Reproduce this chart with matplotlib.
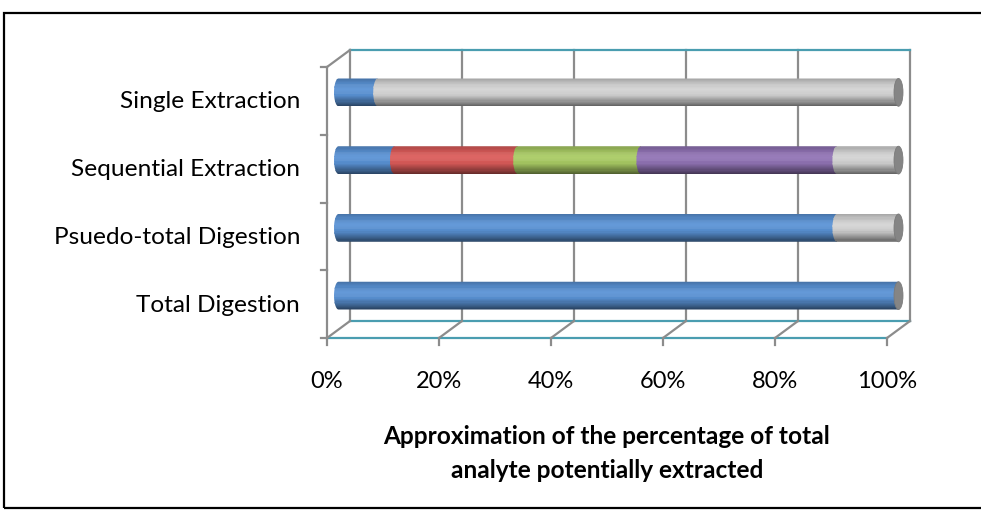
import numpy as np
import matplotlib
matplotlib.use("Agg")
import matplotlib.pyplot as plt
from matplotlib.patches import Polygon, Ellipse, Rectangle
from matplotlib.transforms import ScaledTranslation
import matplotlib.colors as mcolors

# ---- data -------------------------------------------------------------
categories = ["Total Digestion", "Psuedo-total Digestion",
              "Sequential Extraction", "Single Extraction"]
# stacked shares (percent) per category, left to right
segments = [
    [100],
    [89, 11],
    [10, 22, 22, 35, 11],
    [7, 93],
]
segment_colors = [
    ["#5A93D6"],
    ["#5A93D6", "#D4D4D4"],
    ["#5A93D6", "#DC5C5A", "#AACC64", "#9274B6", "#D4D4D4"],
    ["#5A93D6", "#D4D4D4"],
]
tick_values = [0, 20, 40, 60, 80, 100]
tick_labels = ["0%", "20%", "40%", "60%", "80%", "100%"]
xlabel_lines = ["Approximation of the percentage of total",
                "analyte potentially extracted"]

# ---- figure / axes ----------------------------------------------------
W, H, DPI = 981, 512, 100
fig = plt.figure(figsize=(W / DPI, H / DPI), dpi=DPI)
FONT = "Lato"

# front plane of the 3-D box in pixels
fx0, fx1 = 327, 887
fy_top, fy_bot = 67, 338
ax = fig.add_axes([fx0 / W, 1 - fy_bot / H, (fx1 - fx0) / W, (fy_bot - fy_top) / H])
ax.set_xlim(0, 100)
ax.set_ylim(-0.5, len(categories) - 0.5)
ax.axis("off")

# depth offsets (pixels): back wall and mid-depth where the cylinders sit
DX, DY = 23, 17
back = ax.transData + ScaledTranslation(DX / DPI, DY / DPI, fig.dpi_scale_trans)
mid = ax.transData + ScaledTranslation(11.5 / DPI, 8.5 / DPI, fig.dpi_scale_trans)

grid_gray = "#8C8C8C"
wall_teal = "#4A9DB0"
y_lo, y_hi = -0.5, len(categories) - 0.5

# back wall gridlines
for v in tick_values:
    ax.plot([v, v], [y_lo, y_hi], color=grid_gray, lw=1.6, transform=back,
            clip_on=False, zorder=1)
# back wall top / bottom edges
ax.plot([0, 100], [y_hi, y_hi], color=wall_teal, lw=1.6, transform=back, clip_on=False, zorder=1)
ax.plot([0, 100], [y_lo, y_lo], color=wall_teal, lw=1.6, transform=back, clip_on=False, zorder=1)
# front floor edge
ax.plot([0, 100], [y_lo, y_lo], color=wall_teal, lw=1.6, clip_on=False, zorder=1)
# floor diagonals
for v in tick_values:
    x0, y0 = ax.transData.transform((v, y_lo))
    x1, y1 = back.transform((v, y_lo))
    fig.add_artist(plt.Line2D([x0 / W, x1 / W], [y0 / H, y1 / H], color=grid_gray,
                              lw=1.6, transform=fig.transFigure, zorder=1))
# left side wall: front vertical axis and top diagonal
ax.plot([0, 0], [y_lo, y_hi], color=grid_gray, lw=1.6, clip_on=False, zorder=1)
x0, y0 = ax.transData.transform((0, y_hi))
x1, y1 = back.transform((0, y_hi))
fig.add_artist(plt.Line2D([x0 / W, x1 / W], [y0 / H, y1 / H], color=grid_gray,
                          lw=1.6, transform=fig.transFigure, zorder=1))
# category tick marks on the left axis
for k in range(len(categories) + 1):
    yk = y_lo + k
    px, py = ax.transData.transform((0, yk))
    fig.add_artist(plt.Line2D([(px - 6) / W, px / W], [py / H, py / H], color=grid_gray,
                              lw=1.6, transform=fig.transFigure, zorder=1))
# value tick marks under the floor
for v in tick_values:
    px, py = ax.transData.transform((v, y_lo))
    fig.add_artist(plt.Line2D([px / W, px / W], [py / H, (py - 7) / H], color=grid_gray,
                              lw=1.6, transform=fig.transFigure, zorder=1))


# ---- cylinders --------------------------------------------------------
def shade(color, t):
    """Brightness profile across the cylinder (t: 0 bottom, 1 top)."""
    r, g, b = mcolors.to_rgb(color)
    prof = np.interp(t, [0.0, 0.12, 0.4, 0.62, 0.85, 1.0],
                     [0.45, 0.62, 0.95, 1.0, 0.9, 0.78])
    c = np.array([r, g, b]) * prof
    if 0.45 < t < 0.8:
        c = c + (1 - c) * 0.06
    return tuple(np.clip(c, 0, 1))


BAR_H = 0.41
CAP_W = 0.8          # half-width of end ellipse in data units
N_STRIPS = 24
theta = np.linspace(np.pi / 2, 3 * np.pi / 2, 40)

for ci, (vals, cols) in enumerate(zip(segments, segment_colors)):
    left = 0.0
    for vi, (v, col) in enumerate(zip(vals, cols)):
        right = left + v
        hb = BAR_H / 2
        xs = list(left + CAP_W * np.cos(theta)) + [right, right]
        ys = list(ci + hb * np.sin(theta)) + [ci - hb, ci + hb]
        clip = Polygon(np.column_stack([xs, ys]), closed=True, transform=mid,
                       facecolor="none", edgecolor="none", clip_on=False)
        ax.add_patch(clip)
        z = 3 + vi * 0.1
        edges = np.linspace(ci - hb, ci + hb, N_STRIPS + 1)
        for k in range(N_STRIPS):
            t = (k + 0.5) / N_STRIPS
            bars = ax.barh(edges[k], right - left + CAP_W + 0.2, left=left - CAP_W - 0.1,
                           height=edges[k + 1] - edges[k] + 0.004, align="edge",
                           color=shade(col, t), linewidth=0, transform=mid, zorder=z)
            for b in bars:
                b.set_clip_box(None)
                b.set_clip_path(clip)
        left = right
    cap = Ellipse((left, ci), 2 * CAP_W, BAR_H, transform=mid, facecolor="#858585",
                  edgecolor="#7A7A7A", lw=0.6, zorder=4, clip_on=False)
    ax.add_patch(cap)

# ---- text -------------------------------------------------------------
for ci, name in enumerate(categories):
    px, py = ax.transData.transform((0, ci))
    fig.text((fx0 - 27) / W, (py - 1) / H, name, ha="right", va="center",
             fontsize=17.6, family=FONT, color="#000000")

for v, lab in zip(tick_values, tick_labels):
    px, _ = ax.transData.transform((v, 0))
    fig.text(px / W, 1 - 381 / H, lab, ha="center", va="center",
             fontsize=17, family=FONT)

cx = (fx0 + fx1) / 2 / W
fig.text(cx, 1 - 437 / H, xlabel_lines[0], ha="center", va="center",
         fontsize=17.6, family=FONT, fontweight="bold")
fig.text(cx, 1 - 470 / H, xlabel_lines[1], ha="center", va="center",
         fontsize=17.6, family=FONT, fontweight="bold")

# outer frame
fig.add_artist(Rectangle((4 / W, 1 - 508 / H), (W + 10) / W, (508 - 13) / H,
                         transform=fig.transFigure, facecolor="none",
                         edgecolor="black", lw=1.6, zorder=0))

fig.savefig("out.png", dpi=DPI)
